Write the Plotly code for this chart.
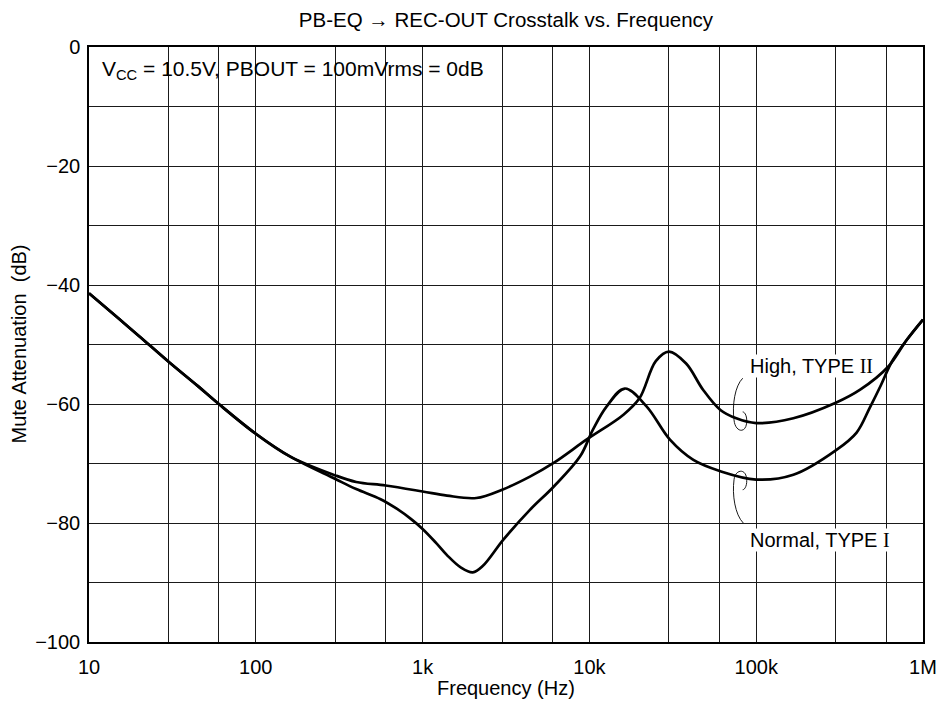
import plotly.graph_objects as go

# %%
# TYPE II (High) curve
high_freq = [10, 15, 20, 30, 45, 60, 100, 160, 300, 400, 600, 1000, 1400, 2100, 3000,
             4400, 6100, 9600, 16000, 20000, 25000, 30000, 38000, 48000, 61000, 76000,
             100000, 167000, 300000, 420000, 620000, 800000, 1000000]
high_db = [-41.4, -45.6, -48.6, -52.9, -57.0, -60.0, -65.0, -68.8, -72.0, -73.1, -73.7,
           -74.7, -75.4, -75.8, -74.4, -72.2, -69.9, -66.0, -61.8, -59.0, -52.8, -51.2,
           -53.2, -57.6, -61.0, -62.4, -63.2, -62.4, -59.8, -57.6, -53.7, -49.2, -45.8]

# TYPE I (Normal) curve
normal_freq = [10, 15, 20, 30, 45, 60, 100, 160, 300, 400, 560, 700, 850, 1000, 1200,
               1400, 1700, 2000, 2300, 3050, 4400, 6100, 8800, 10500, 12700, 16300, 22000,
               30400, 42000, 61000, 100000, 167000, 300000, 400000, 480000, 560000,
               650000, 800000, 1000000]
normal_db = [-41.4, -45.6, -48.6, -52.9, -57.0, -60.0, -65.0, -68.8, -72.6, -74.3, -76.0,
             -77.6, -79.3, -81.0, -83.3, -85.4, -87.5, -88.3, -87.2, -82.8, -77.8, -73.9,
             -68.8, -64.3, -60.4, -57.4, -60.4, -66.0, -69.4, -71.3, -72.7, -71.9, -67.8,
             -64.8, -60.6, -56.8, -52.9, -49.2, -45.8]

x_major = [10, 100, 1000, 10000, 100000, 1000000]
x_major_text = ["10", "100", "1k", "10k", "100k", "1M"]
x_minor = [30, 60, 300, 600, 3000, 6000, 30000, 60000, 300000, 600000]
y_major = [0, -20, -40, -60, -80, -100]
y_major_text = ["0", "\u221220", "\u221240", "\u221260", "\u221280", "\u2212100"]

# %%
FONT = "Liberation Sans, Arial, sans-serif"
W, H = 941, 705
L, R, T, B = 89, 923, 46.5, 642.5  # plot box in pixels


def px_to_paper(x, y):
    return (x - L) / (R - L), (B - y) / (B - T)


def bracket_path(pts):
    p = [px_to_paper(*pt) for pt in pts]
    s = f"M {p[0][0]:.4f},{p[0][1]:.4f}"
    for i in range(1, len(p), 3):
        s += " C " + " ".join(f"{a:.4f},{b:.4f}" for a, b in p[i:i + 3])
    return s


high_bracket = [(742.7, 378.3), (735, 386), (732, 405), (734, 420), (735, 432), (745, 434),
                (746.5, 424), (747.5, 417), (745, 412), (742.7, 412)]
normal_bracket = [(743.3, 523.3), (735, 515), (732, 495), (734, 480), (735, 470), (745, 468),
                  (746.5, 478), (747.5, 485), (745, 490), (742.7, 490)]

fig = go.Figure()
for f, d in [(normal_freq, normal_db), (high_freq, high_db)]:
    fig.add_trace(go.Scatter(x=f, y=d, mode="lines",
                             line=dict(color="black", width=2.7, shape="spline", smoothing=1),
                             showlegend=False, hoverinfo="skip"))

for pts in [high_bracket, normal_bracket]:
    fig.add_shape(type="path", xref="paper", yref="paper", path=bracket_path(pts),
                  line=dict(color="black", width=0.9))

roman = "<span style=\"font-family:'Liberation Serif', 'Times New Roman', serif\">{}</span>"
annots = [
    dict(text="V<sub>CC</sub> = 10.5V, PBOUT = 100mVrms = 0dB", x=px_to_paper(101, 0)[0],
         y=px_to_paper(0, 70)[1], xanchor="left", yanchor="middle", font_size=21),
    dict(text="High, TYPE " + roman.format("II"), x=px_to_paper(749, 0)[0],
         y=px_to_paper(0, 366)[1], xanchor="left", yanchor="middle", bgcolor="white"),
    dict(text="Normal, TYPE " + roman.format("I"), x=px_to_paper(749, 0)[0],
         y=px_to_paper(0, 540)[1], xanchor="left", yanchor="middle", bgcolor="white"),
    dict(text="Frequency (Hz)", x=0.5, y=px_to_paper(0, 689)[1], xanchor="center",
         yanchor="middle"),
    dict(text="Mute Attenuation\u00a0\u00a0(dB)", x=px_to_paper(18, 0)[0], y=0.5,
         xanchor="center", yanchor="middle", textangle=-90),
]
for a in annots:
    size = a.pop("font_size", 20)
    fig.add_annotation(xref="paper", yref="paper", showarrow=False,
                       font=dict(family=FONT, size=size, color="black"), borderpad=0, **a)

fig.update_layout(
    width=W, height=H,
    margin=dict(l=L, r=W - R, t=T, b=H - B, autoexpand=False),
    paper_bgcolor="white", plot_bgcolor="white",
    font=dict(family=FONT, size=20, color="black"),
    title=dict(text="PB-EQ \u2192 REC-OUT Crosstalk vs. Frequency", x=0.5, xref="paper",
               y=1 - 20 / H, yref="container", xanchor="center", yanchor="middle",
               font=dict(family=FONT, size=20.5, color="black")),
)
grid = dict(showgrid=True, gridcolor="#1a1a1a", gridwidth=1)
fig.update_xaxes(type="log", range=[1, 6], tickvals=x_major, ticktext=x_major_text,
                 minor=dict(tickvals=x_minor, ticks="", **grid), **grid,
                 showline=True, linecolor="black", linewidth=1.5, mirror=True,
                 ticks="", zeroline=False, ticklabelstandoff=6, ticklabeloverflow="allow")
fig.update_yaxes(range=[-100, 0], tickvals=y_major, ticktext=y_major_text,
                 minor=dict(dtick=10, ticks="", **grid), **grid,
                 showline=True, linecolor="black", linewidth=1.5, mirror=True,
                 ticks="", zeroline=False, ticklabelstandoff=3)

# drop the default page margin so the figure sits at the window's top-left corner
fig.write_html("out.html", config={"displayModeBar": False},
               post_script="document.body.style.margin='0';document.body.style.overflow='hidden';")
